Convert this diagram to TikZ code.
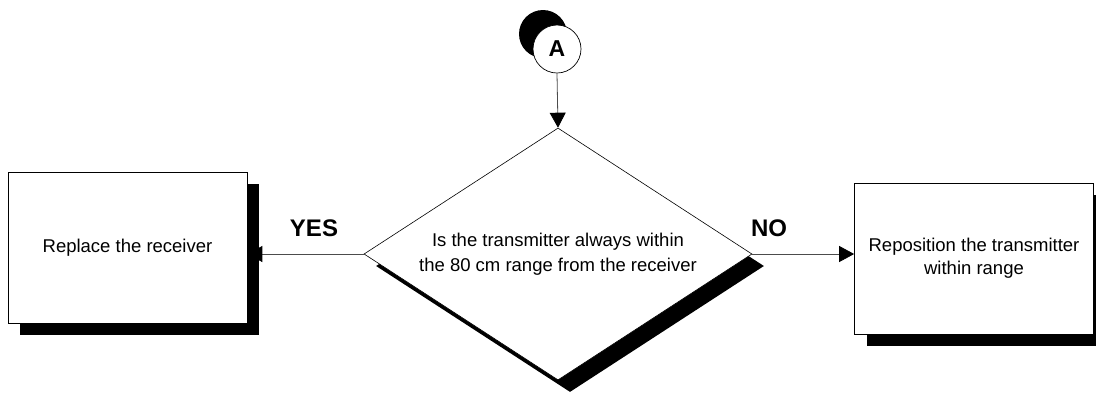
\documentclass[tikz,border=0pt]{standalone}
\usepackage{fontspec}
\setmainfont{Liberation Sans}
\usetikzlibrary{arrows.meta,shapes.geometric,shadows}
\begin{document}
\begin{tikzpicture}[x=1pt,y=-1pt,
  box/.style={draw=black, fill=white, line width=0.7pt, minimum width=239pt, minimum height=151pt,
    inner sep=0pt, align=center, font=\fontsize{18.5}{23}\selectfont,
    general shadow={fill=black, shadow xshift=12pt, shadow yshift=-12pt}},
  decision/.style={diamond, draw=black, fill=white, line width=0.6pt, aspect=1.54,
    minimum width=388pt, minimum height=252pt, inner sep=0pt, align=center,
    font=\fontsize{18.5}{25}\selectfont,
    general shadow={fill=black, shadow xshift=12pt, shadow yshift=-12pt}},
  conn/.style={circle, draw=black, fill=white, line width=0.7pt, minimum size=48pt, inner sep=0pt,
    font=\fontsize{23}{23}\selectfont\bfseries,
    general shadow={fill=black, shadow xshift=-14pt, shadow yshift=15pt}},
  lbl/.style={font=\fontsize{24}{24}\selectfont\bfseries, inner sep=0pt},
  flow/.style={draw=black!70, line width=0.8pt, -{Triangle[length=15pt,width=16pt,color=black,fill=black]}}
]
\useasboundingbox (0,0) rectangle (1096,392);
\node[conn] (A) at (557,49) {A};
\node[decision] (D) at (558,254) {Is the transmitter always within\\the 80 cm range from the receiver};
\node[box] (L) at (127.5,247.5) {Replace the receiver};
\node[box] (R) at (974,258.5) {Reposition the transmitter\\within range};
\draw[flow] (A.south) -- (D.north);
\draw[flow] (D.west) -- (D.west -| L.east);
\draw[flow] (D.east) -- (D.east -| R.west);
\node[lbl] (yes) at (314,228) {YES};
\node[lbl] (no) at (769,228) {NO};
\end{tikzpicture}
\end{document}
